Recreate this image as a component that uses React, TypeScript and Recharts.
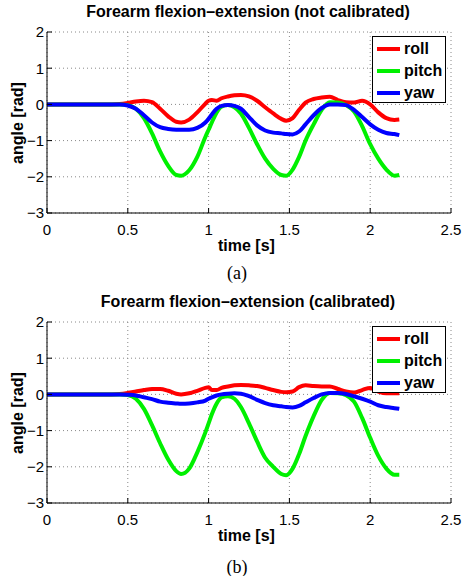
import { LineChart, Line, XAxis, YAxis, CartesianGrid, Legend } from "recharts";

// sample times [s], shared by both panels
const T = [
  0, 0.1, 0.2, 0.3, 0.4, 0.45, 0.5, 0.55, 0.6, 0.65, 0.7, 0.75, 0.8, 0.83, 0.88, 0.93, 0.98, 1.0, 1.02, 1.05,
  1.08, 1.12, 1.16, 1.2, 1.25, 1.3, 1.35, 1.4, 1.45, 1.48, 1.52, 1.56, 1.6, 1.65, 1.7, 1.75, 1.8, 1.85, 1.9, 1.95,
  2.0, 2.05, 2.1, 2.15, 2.18,
];

// (a) not calibrated
const ROLL_A = [
  0, 0, 0, 0, 0, 0.01, 0.04, 0.08, 0.1, 0.06, -0.12, -0.33, -0.48, -0.5, -0.42, -0.22, 0.02, 0.1, 0.12, 0.1,
  0.17, 0.22, 0.25, 0.26, 0.22, 0.1, -0.08, -0.25, -0.4, -0.45, -0.38, -0.15, 0.05, 0.15, 0.19, 0.21, 0.12, 0.06, 0.05, 0.1,
  0.0, -0.22, -0.38, -0.43, -0.42,
];
const PITCH_A = [
  0, 0, 0, 0, 0, 0, -0.02, -0.12, -0.38, -0.8, -1.3, -1.7, -1.95, -1.97, -1.82, -1.45, -0.9, -0.7, -0.5, -0.22,
  -0.06, -0.02, -0.08, -0.25, -0.65, -1.1, -1.5, -1.78, -1.95, -1.97, -1.8, -1.45, -1.0, -0.55, -0.15, 0.06, 0.05, -0.02, -0.2, -0.6,
  -1.1, -1.5, -1.8, -1.97, -1.95,
];
const YAW_A = [
  0, 0, 0, 0, 0, 0, -0.03, -0.12, -0.3, -0.5, -0.63, -0.68, -0.7, -0.7, -0.7, -0.65, -0.5, -0.4, -0.28, -0.12,
  -0.04, -0.02, -0.04, -0.12, -0.35, -0.58, -0.72, -0.78, -0.8, -0.82, -0.83, -0.75, -0.55, -0.3, -0.1, 0.0, 0.0, -0.02, -0.15, -0.35,
  -0.55, -0.7, -0.79, -0.82, -0.85,
];

// (b) calibrated
const ROLL_B = [
  0, 0, 0, 0, 0, 0.01, 0.04, 0.08, 0.12, 0.15, 0.15, 0.1, 0.02, 0.0, 0.03, 0.1, 0.18, 0.2, 0.12, 0.12,
  0.18, 0.22, 0.25, 0.26, 0.25, 0.23, 0.18, 0.12, 0.07, 0.06, 0.08, 0.2, 0.25, 0.23, 0.22, 0.22, 0.15, 0.08, 0.05, 0.12,
  0.18, 0.08, 0.03, 0.03, 0.03,
];
const PITCH_B = [
  0, 0, 0, 0, 0, 0, -0.02, -0.12, -0.4, -0.85, -1.35, -1.8, -2.12, -2.2, -2.05, -1.6, -1.05, -0.8, -0.55, -0.25,
  -0.08, -0.05, -0.12, -0.35, -0.8, -1.3, -1.75, -2.0, -2.2, -2.23, -2.05, -1.65, -1.15, -0.6, -0.15, 0.04, 0.03, -0.02, -0.2, -0.65,
  -1.2, -1.7, -2.05, -2.22, -2.22,
];
const YAW_B = [
  0, 0, 0, 0, 0, 0, -0.01, -0.03, -0.08, -0.13, -0.2, -0.23, -0.25, -0.26, -0.25, -0.22, -0.17, -0.12, -0.08, -0.03,
  0.0, 0.02, 0.03, 0.02, -0.05, -0.15, -0.24, -0.3, -0.33, -0.35, -0.36, -0.32, -0.22, -0.1, 0.0, 0.04, 0.04, 0.01, -0.05, -0.12,
  -0.2, -0.3, -0.35, -0.38, -0.4,
];

const X_TICKS = [0, 0.5, 1, 1.5, 2, 2.5];
const Y_TICKS = [-3, -2, -1, 0, 1, 2];

const SERIES = [
  { key: "roll", color: "#ff0000" },
  { key: "pitch", color: "#00f000" },
  { key: "yaw", color: "#0000ff" },
];

const FONT = "'Liberation Sans', Arial, Helvetica, sans-serif";

function buildRows(roll: number[], pitch: number[], yaw: number[]) {
  return T.map((t, i) => ({ t, roll: roll[i], pitch: pitch[i], yaw: yaw[i] }));
}

const minus = (v: number) => String(v).replace("-", "\u2212");

function LegendBox() {
  return (
    <div style={{ border: "1px solid #000", background: "#fff", width: 72, height: 64, paddingTop: 1, boxSizing: "content-box" }}>
      {SERIES.map((s) => (
        <div key={s.key} style={{ display: "flex", alignItems: "center", height: 22, paddingLeft: 4 }}>
          <div style={{ width: 23, height: 4, background: s.color, marginRight: 4 }} />
          <span style={{ fontFamily: FONT, fontWeight: "bold", fontSize: 16, color: "#000" }}>{s.key}</span>
        </div>
      ))}
    </div>
  );
}

function Panel({ top, title, caption, captionY, rows }: any) {
  const txt = { position: "absolute" as const, fontFamily: FONT, fontWeight: "bold" as const, color: "#000", whiteSpace: "nowrap" as const };
  return (
    <div style={{ position: "absolute", left: 0, top, width: 463, height: 290 }}>
      <LineChart width={463} height={260} data={rows} margin={{ top: 32, right: 12, bottom: 17, left: 0 }}>
        <CartesianGrid stroke="#888" strokeDasharray="1 3" />
        <XAxis
          dataKey="t"
          type="number"
          domain={[0, 2.5]}
          ticks={X_TICKS}
          height={30}
          tickSize={-5}
          tickMargin={16}
          axisLine={{ stroke: "#000" }}
          tickLine={{ stroke: "#000" }}
          tick={{ fill: "#000", fontSize: 15, fontFamily: FONT }}
        />
        <XAxis
          xAxisId="top"
          orientation="top"
          type="number"
          domain={[0, 2.5]}
          ticks={X_TICKS}
          height={0}
          tickSize={-5}
          tickFormatter={() => ""}
          axisLine={{ stroke: "#000" }}
          tickLine={{ stroke: "#000" }}
        />
        <YAxis
          type="number"
          domain={[-3, 2]}
          ticks={Y_TICKS}
          width={47}
          tickSize={-5}
          tickMargin={8}
          tickFormatter={minus}
          axisLine={{ stroke: "#000" }}
          tickLine={{ stroke: "#000" }}
          tick={{ fill: "#000", fontSize: 15, fontFamily: FONT }}
        />
        <YAxis
          yAxisId="right"
          orientation="right"
          type="number"
          domain={[-3, 2]}
          ticks={Y_TICKS}
          width={0}
          tickSize={-5}
          tickFormatter={() => ""}
          axisLine={{ stroke: "#000" }}
          tickLine={{ stroke: "#000" }}
        />
        {SERIES.map((s) => (
          <Line
            key={s.key}
            type="monotone"
            dataKey={s.key}
            stroke={s.color}
            strokeWidth={4}
            dot={false}
            isAnimationActive={false}
          />
        ))}
        <Legend
          layout="horizontal"
          verticalAlign="middle"
          align="center"
          content={() => <LegendBox />}
          wrapperStyle={{ top: 36, left: 372, width: 74, height: 66 }}
        />
      </LineChart>
      <div style={{ ...txt, left: 0, width: 496, top: 2, fontSize: 16, lineHeight: "20px", textAlign: "center" }}>{title}</div>
      <div style={{ ...txt, left: 218, top: 236, fontSize: 16, lineHeight: "20px" }}>time [s]</div>
      <div
        style={{
          ...txt,
          left: 18,
          top: 123,
          fontSize: 16,
          lineHeight: "20px",
          transform: "translate(-50%, -50%) rotate(-90deg)",
        }}
      >
        angle [rad]
      </div>
      <div
        style={{
          position: "absolute",
          left: 0,
          width: 474,
          top: captionY - 11,
          fontFamily: "'Liberation Serif', 'Times New Roman', serif",
          fontSize: 18,
          lineHeight: "22px",
          textAlign: "center",
          color: "#000",
        }}
      >
        {caption}
      </div>
    </div>
  );
}

export default function App() {
  return (
    <div style={{ position: "absolute", left: 0, top: 0, width: 463, height: 576, background: "#fff", overflow: "hidden" }}>
      <Panel top={0} title="Forearm flexion–extension (not calibrated)" caption="(a)" captionY={273} rows={buildRows(ROLL_A, PITCH_A, YAW_A)} />
      <Panel top={290} title="Forearm flexion–extension (calibrated)" caption="(b)" captionY={277} rows={buildRows(ROLL_B, PITCH_B, YAW_B)} />
    </div>
  );
}
